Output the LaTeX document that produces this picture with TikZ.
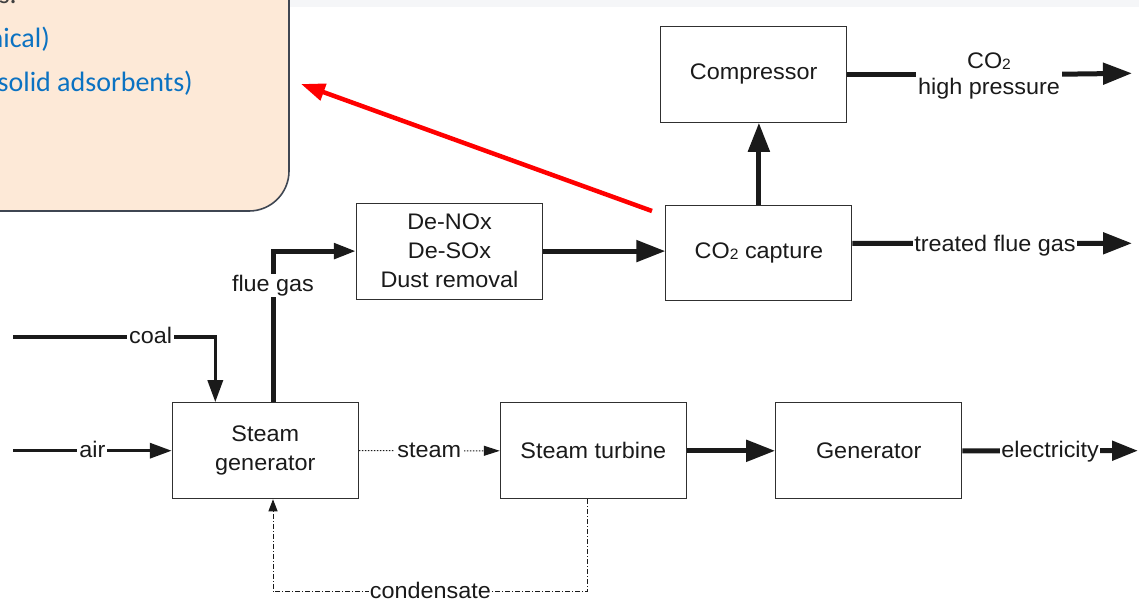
\documentclass[tikz,border=0pt]{standalone}
\usepackage{fontspec}
\setmainfont{Liberation Sans}[FakeStretch=1.04]
\newfontfamily\calib{Carlito}
\usetikzlibrary{arrows.meta,calc}
\definecolor{peach}{HTML}{FDE9D7}
\definecolor{callborder}{HTML}{3F4652}
\definecolor{topband}{HTML}{F5F6F8}
\definecolor{callblue}{HTML}{0B72C2}
\definecolor{calgray}{HTML}{404040}
\definecolor{boxline}{HTML}{303030}
\definecolor{ink}{HTML}{1A1A1A}
\definecolor{redarrow}{HTML}{FF0000}
\newcommand\subtwo{\raisebox{-1.5pt}{\fontsize{15}{15}\selectfont 2}}

\begin{document}
\begin{tikzpicture}[x=1pt,y=-1pt,
  every node/.style={font=\fontsize{22.5}{29}\selectfont, text=ink},
  procbox/.style={draw=boxline, line width=1.1pt, minimum width=186pt, minimum height=96pt, inner sep=0pt, align=center},
  lab/.style={fill=white, inner xsep=2pt, inner ysep=1pt, anchor=base, yshift=-6.3pt},
  heavy/.style={draw=ink, line width=5pt},
  medium/.style={draw=ink, line width=3.4pt},
  bigtip/.style={-{Triangle[length=29pt,width=21pt]}},
  midtip/.style={-{Triangle[length=22pt,width=15pt]}},
  dotline/.style={draw=ink, line width=1pt, dash pattern=on 1.5pt off 1.5pt},
  dotdash/.style={draw=ink, line width=1pt, dash pattern=on 5pt off 2pt on 1pt off 2pt},
  calltext/.style={font=\calib\fontsize{28}{34}\selectfont, text=callblue, anchor=base east, inner sep=0pt}
]
\useasboundingbox (0,0) rectangle (1139,599);
\clip (0,0) rectangle (1139,599);
\fill[white] (0,0) rectangle (1139,599);
\fill[topband] (0,0) rectangle (1139,7);

% callout
\filldraw[fill=peach, draw=callborder, line width=1.6pt, rounded corners=40pt] (-60,-60) rectangle (289,211);
\node[calltext, text=calgray] (c0) at (17,4) {s.};
\node[calltext] (c1) at (50,48) {nical)};
\node[calltext] (c2) at (193,92) {solid adsorbents)};

% process boxes
\node[procbox] (comp) at (753.7,74.2) {Compressor};
\node[procbox, minimum height=94.5pt] (cap) at (758.9,252.9) {CO\subtwo{} capture};
\node[procbox] (denox) at (449.5,251.1) {De-NOx\\De-SOx\\Dust removal};
\node[procbox] (sg) at (265.3,450.7) {Steam\\generator};
\node[procbox] (st) at (593.3,450.8) {Steam turbine};
\node[procbox] (gen) at (868.7,450.8) {Generator};

% free ends
\coordinate (coalin) at (13,337);
\coordinate (airin) at (13,450.7);
\coordinate (co2out) at (1132,73.3);
\coordinate (tfgout) at (1132,243.3);
\coordinate (elecout) at (1138,450.7);
\coordinate (condy) at (0,591.7);
\coordinate (redstart) at (652,211);
\coordinate (redend) at (301,84);

% coal and air
\draw[medium, midtip] (coalin) -| ([xshift=-50pt]sg.north)
  node[lab, pos=0.34] {coal};
\draw[medium, midtip] (airin) -- node[lab] {air} (sg.west);

% flue gas
\draw[heavy, midtip] ([xshift=7.7pt]sg.north) |- (denox.west);
\node[fill=white, inner xsep=1pt, inner ysep=1pt, anchor=base] (fluelab) at (273,291) {flue gas};

% de-nox to capture
\draw[heavy, bigtip] (denox.east) -- (denox.east -| cap.west);

% capture to compressor
\draw[heavy, bigtip] (cap.north) -- (cap.north |- comp.south);

% compressor output
\node[anchor=base, inner sep=1pt] (co2a) at (989,68.3) {CO\subtwo};
\node[anchor=base, inner xsep=2pt, inner ysep=1pt] (co2b) at (989,94.3) {high pressure};
\draw[heavy] (comp.east) -- (comp.east -| co2b.west);
\draw[heavy, bigtip] (comp.east -| co2b.east) -- (co2out);

% treated flue gas
\draw[heavy, bigtip] ([yshift=9.6pt]cap.east) -- node[lab, inner xsep=1pt, pos=0.51, yshift=-2pt] {treated flue gas} (tfgout);

% steam
\draw[dotline, -{Triangle[length=16pt,width=10pt]}] (sg.east) -- node[lab, inner xsep=3pt] {steam} (st.west);

% turbine to generator
\draw[heavy, bigtip] (st.east) -- (gen.west);

% electricity
\draw[heavy, -{Triangle[length=26pt,width=19pt]}] (gen.east) -- node[lab, inner xsep=1pt] {electricity} (elecout);

% condensate
\draw[dotdash, -{Triangle[length=12pt,width=9pt]}] ([xshift=-5.6pt]st.south) -- ([xshift=-5.6pt]st.south |- condy) -| ([xshift=7.7pt]sg.south)
  node[lab, pos=0.25, inner xsep=1pt] {condensate};

% red arrow
\draw[draw=redarrow, line width=4.5pt, -{Triangle[length=24pt,width=17pt]}] (redstart) -- (redend);
\end{tikzpicture}
\end{document}
